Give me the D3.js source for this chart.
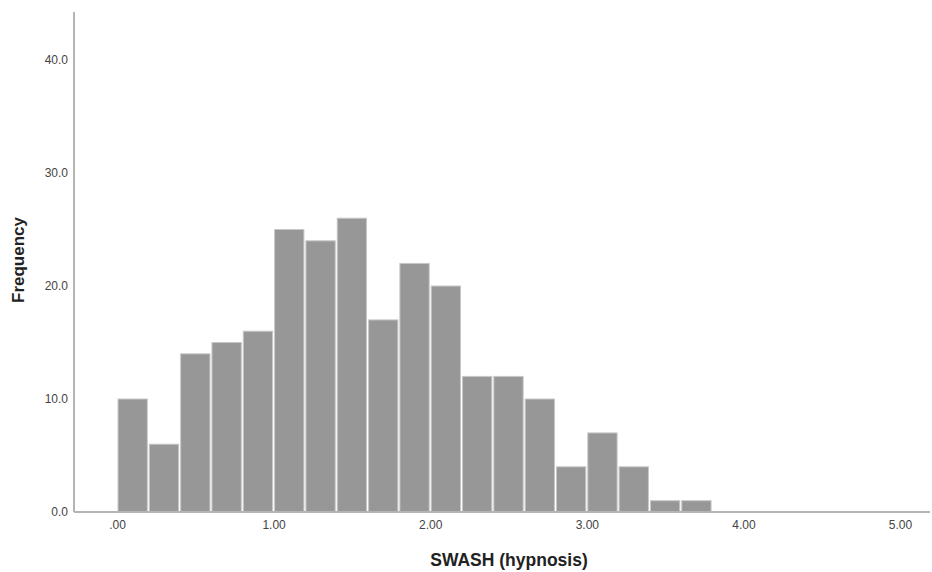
<!DOCTYPE html>
<html>
<head>
<meta charset="utf-8">
<script src="https://cdn.jsdelivr.net/npm/d3@7"></script>
<style>
body { margin: 0; background: #fff; }
.tick text { font-family: Arial, "Liberation Sans", sans-serif; font-size: 12px; fill: #444; }
.label { font-family: Arial, "Liberation Sans", sans-serif; font-weight: bold; fill: #222; }
</style>
</head>
<body>
<svg class="chart"></svg>
<script>
// bin edges (lower bound of each 0.2 wide bin) and counts
var binStart = [0.0, 0.2, 0.4, 0.6, 0.8, 1.0, 1.2, 1.4, 1.6, 1.8,
                2.0, 2.2, 2.4, 2.6, 2.8, 3.0, 3.2, 3.4, 3.6];
var counts = [10, 6, 14, 15, 16, 25, 24, 26, 17, 22,
              20, 12, 12, 10, 4, 7, 4, 1, 1];
var binWidth = 0.2;
var xTicks = [0, 1, 2, 3, 4, 5];
var yTicks = [0, 10, 20, 30, 40];

var W = 932, H = 572;
var plotLeft = 74, plotRight = 930, plotTop = 12, plotBottom = 512;

var svg = d3.select(".chart")
	.attr("width", W)
	.attr("height", H);

// x: .00 sits at 117px, 5.00 at 900px
var x = d3.scaleLinear()
	.domain([0, 5])
	.range([117, 900]);
var y = d3.scaleLinear()
	.domain([0, 40])
	.range([plotBottom, 60]);

var data = binStart.map(function(b, i) { return {x0: b, n: counts[i]}; });

// bars
svg.selectAll(".bar")
	.data(data)
.enter().append("rect")
	.attr("class", "bar")
	.attr("x", function(d) { return x(d.x0) + 1; })
	.attr("y", function(d) { return y(d.n); })
	.attr("width", function(d) { return x(d.x0 + binWidth) - x(d.x0) - 2; })
	.attr("height", function(d) { return plotBottom - y(d.n); })
	.style("fill", "#979797")
	.style("stroke", "#c8c8c8")
	.style("stroke-width", 1);

// axes
var xAxis = svg.append("g")
	.attr("transform", "translate(0," + plotBottom + ")")
	.call(d3.axisBottom(x).tickValues(xTicks).tickSize(0).tickPadding(8)
		.tickFormat(function(d) { return d === 0 ? ".00" : d3.format(".2f")(d); }));
xAxis.select(".domain").remove();

var yAxis = svg.append("g")
	.attr("transform", "translate(" + plotLeft + ",0)")
	.call(d3.axisLeft(y).tickValues(yTicks).tickSize(0).tickPadding(6)
		.tickFormat(d3.format(".1f")));
yAxis.select(".domain").remove();

// axis lines drawn plain, SPSS style
svg.append("line")
	.attr("x1", plotLeft).attr("x2", plotRight)
	.attr("y1", plotBottom).attr("y2", plotBottom)
	.style("stroke", "#b4b4b4").style("stroke-width", 2);
svg.append("line")
	.attr("x1", plotLeft).attr("x2", plotLeft)
	.attr("y1", plotTop).attr("y2", plotBottom)
	.style("stroke", "#b4b4b4").style("stroke-width", 2);

// titles
svg.append("text")
	.attr("class", "label")
	.attr("x", 509)
	.attr("y", 566)
	.attr("text-anchor", "middle")
	.style("font-size", "17.5px")
	.text("SWASH (hypnosis)");

svg.append("text")
	.attr("class", "label")
	.attr("transform", "translate(24,260) rotate(-90)")
	.attr("text-anchor", "middle")
	.style("font-size", "17px")
	.text("Frequency");
</script>
</body>
</html>
